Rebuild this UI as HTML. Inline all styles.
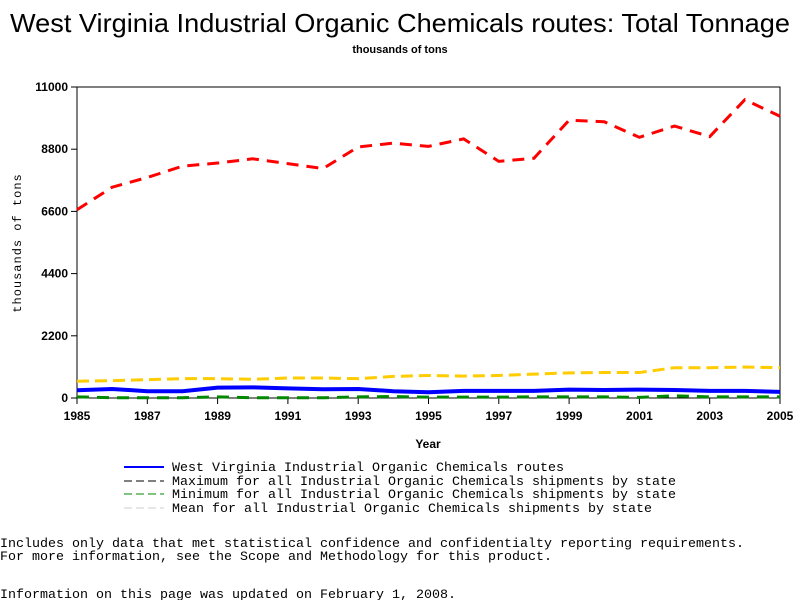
<!DOCTYPE html>
<html><head><meta charset="utf-8"><style>
body{margin:0;background:#fff;width:800px;height:600px;overflow:hidden;font-family:"Liberation Sans",sans-serif}
svg{display:block}
</style></head><body>
<svg width="800" height="600" xmlns="http://www.w3.org/2000/svg">
<text x="10" y="32" textLength="780" lengthAdjust="spacingAndGlyphs" font-size="26" font-family="Liberation Sans,sans-serif">West Virginia Industrial Organic Chemicals routes: Total Tonnage</text>
<text x="400" y="53" text-anchor="middle" font-size="11" font-weight="bold">thousands of tons</text>
<text transform="translate(21,243) rotate(-90)" text-anchor="middle" font-size="12" font-family="Liberation Mono,monospace" letter-spacing="1">thousands of tons</text>
<text x="428" y="448" text-anchor="middle" font-size="12" font-weight="bold">Year</text>
<g id="axes"></g>
<g id="series"></g>
<g font-family="Liberation Mono,monospace" font-size="13">
<line x1="124" y1="467" x2="164" y2="467" stroke="#00f" stroke-width="2"/><text x="172" y="471" textLength="392" lengthAdjust="spacingAndGlyphs">West Virginia Industrial Organic Chemicals routes</text>
<line x1="124" y1="481" x2="164" y2="481" stroke="#000" stroke-dasharray="8,4"/><text x="172" y="485" textLength="504" lengthAdjust="spacingAndGlyphs">Maximum for all Industrial Organic Chemicals shipments by state</text>
<line x1="124" y1="494" x2="164" y2="494" stroke="#080" stroke-dasharray="8,4"/><text x="172" y="498" textLength="504" lengthAdjust="spacingAndGlyphs">Minimum for all Industrial Organic Chemicals shipments by state</text>
<line x1="124" y1="508" x2="164" y2="508" stroke="#ccc" stroke-dasharray="8,4"/><text x="172" y="512" textLength="480" lengthAdjust="spacingAndGlyphs">Mean for all Industrial Organic Chemicals shipments by state</text>
</g>
<g font-family="Liberation Mono,monospace" font-size="13">
<text x="0" y="547" textLength="744" lengthAdjust="spacingAndGlyphs">Includes only data that met statistical confidence and confidentialty reporting requirements.</text>
<text x="0" y="560" textLength="552" lengthAdjust="spacingAndGlyphs">For more information, see the Scope and Methodology for this product.</text>
<text x="0" y="598" textLength="456" lengthAdjust="spacingAndGlyphs">Information on this page was updated on February 1, 2008.</text>
</g>
</svg>
<script>
const years=[1985,1986,1987,1988,1989,1990,1991,1992,1993,1994,1995,1996,1997,1998,1999,2000,2001,2002,2003,2004,2005];
const maxVals=[6660,7455,7800,8200,8310,8460,8290,8115,8880,9015,8900,9165,8370,8480,9825,9770,9220,9620,9245,10550,9965];
const meanVals=[593,615,650,684,684,661,707,707,684,764,798,775,798,844,889,900,900,1072,1072,1095,1072];
const wvVals=[274,319,240,240,365,376,342,308,319,240,205,251,251,251,296,285,296,285,251,251,217];
const minVals=[40,10,10,10,40,10,10,10,40,50,30,30,30,40,40,40,20,80,40,40,40];
const yTicks=[0,2200,4400,6600,8800,11000];
const xTicks=[1985,1987,1989,1991,1993,1995,1997,1999,2001,2003,2005];
const L=77,R=780,T=87,B=398;
const xs=y=>L+(y-1985)/20*(R-L);
const ys=v=>B-v/11000*(B-T);
const NS='http://www.w3.org/2000/svg';
function mk(tag,attrs,parent){const e=document.createElementNS(NS,tag);for(const k in attrs)e.setAttribute(k,attrs[k]);parent.appendChild(e);return e;}
const ax=document.getElementById('axes');
const frame=mk('rect',{x:L,y:T,width:R-L,height:B-T,fill:'none',stroke:'#000','stroke-width':1},ax);


yTicks.forEach(v=>{
 const t=mk('line',{x1:L-6,x2:L,y1:ys(v),y2:ys(v),stroke:'#000'},ax);
 
 
 const tx=mk('text',{x:L-9,y:ys(v)+4,'text-anchor':'end','font-size':12,'font-weight':'bold'},ax);
 tx.textContent=v;
 
 
});
xTicks.forEach(y=>{
 const t=mk('line',{x1:xs(y),x2:xs(y),y1:B,y2:B+6,stroke:'#000'},ax);
 
 
 const tx=mk('text',{x:xs(y),y:B+22,'text-anchor':'middle','font-size':12,'font-weight':'bold'},ax);
 tx.textContent=y;
 
 
});
const sg=document.getElementById('series');
function line(vals,color,dash,name,w){
 const p=mk('polyline',{points:vals.map((v,i)=>xs(years[i])+','+ys(v)).join(' '),fill:'none',stroke:color,'stroke-width':w,'stroke-dasharray':dash},sg);
 
 
}
line(maxVals,'#f00','12,8','max-series-line',3);
line(meanVals,'#fc0','12,6','mean-series-line',3);
line(minVals,'#080','12,8','min-series-line',3);
line(wvVals,'#00f','none','wv-series-line',4);
</script>
</body></html>
